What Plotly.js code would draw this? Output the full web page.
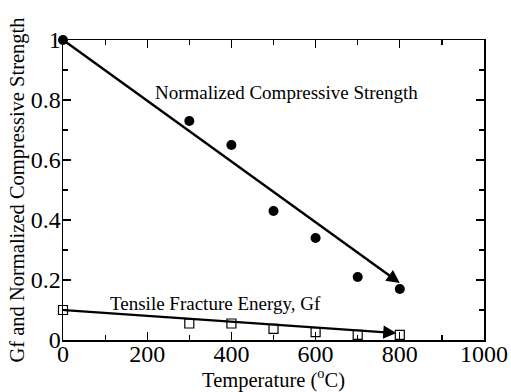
<!DOCTYPE html>
<html><head><meta charset="utf-8">
<script src="https://cdn.plot.ly/plotly-3.0.1.min.js"></script>
<style>html,body{margin:0;padding:0;background:#fff}</style>
</head><body>
<div id="chart" style="width:511px;height:392px"></div>
<script>
const temperature = [0, 300, 400, 500, 600, 700, 800];
const compStrength = [1.0, 0.73, 0.65, 0.43, 0.34, 0.21, 0.17];
const fractureEnergy = [0.1, 0.055, 0.055, 0.037, 0.026, 0.017, 0.017];
const strengthTrend = {x: [0, 800], y: [1.0, 0.19]};
const energyTrend = {x: [0, 792], y: [0.1, 0.023]};
const labelStrength = {x: 213, y: 0.825, text: 'Normalized Compressive Strength'};
const labelEnergy = {x: 107, y: 0.123, text: 'Tensile Fracture Energy, Gf'};
const xTicks = [0, 200, 400, 600, 800, 1000];
const yTicks = [0, 0.2, 0.4, 0.6, 0.8, 1];
const yTickText = ['0', '0.2', '0.4', '0.6', '0.8', '1'];

const font = "'Liberation Serif', 'Times New Roman', Times, serif";
const traces = [
  {x: temperature, y: compStrength, mode: 'markers', type: 'scatter',
   marker: {symbol: 'circle', size: 10, color: '#000'}, cliponaxis: false},
  {x: temperature, y: fractureEnergy, mode: 'markers', type: 'scatter',
   marker: {symbol: 'square-open', size: 9, color: '#000', line: {width: 1.2}}, cliponaxis: false}
];
function arrow(t) {
  return {x: t.x[1], y: t.y[1], ax: t.x[0], ay: t.y[0], xref: 'x', yref: 'y',
    axref: 'x', ayref: 'y', showarrow: true, arrowhead: 2, arrowsize: 1.1,
    arrowwidth: 2.4, arrowcolor: '#000', text: ''};
}
const layout = {
  width: 511, height: 392,
  margin: {l: 63, r: 27, t: 40, b: 52},
  paper_bgcolor: '#fff', plot_bgcolor: '#fff',
  showlegend: false,
  font: {family: font, color: '#000', size: 19},
  xaxis: {range: [0, 1000], tickmode: 'array', tickvals: xTicks,
    ticks: 'inside', ticklen: 8, tickwidth: 1.2, tickcolor: '#000',
    minor: {dtick: 100, ticks: 'inside', ticklen: 5, tickwidth: 1.2, tickcolor: '#000'},
    showline: true, linecolor: '#000', linewidth: 1.5, mirror: 'ticks',
    showgrid: false, zeroline: false,
    tickfont: {size: 24, family: font, color: '#000'}, ticklabelstandoff: -8,
    title: {text: 'Temperature (<sup>o</sup>C)', font: {size: 20.5, family: font, color: '#000'}, standoff: 4}},
  yaxis: {range: [0, 1], tickmode: 'array', tickvals: yTicks, ticktext: yTickText,
    ticks: 'inside', ticklen: 8, tickwidth: 1.2, tickcolor: '#000',
    minor: {dtick: 0.1, ticks: 'inside', ticklen: 5, tickwidth: 1.2, tickcolor: '#000'},
    showline: true, linecolor: '#000', linewidth: 1.5, mirror: 'ticks',
    showgrid: false, zeroline: false,
    tickfont: {size: 24, family: font, color: '#000'}, ticklabelstandoff: -4,
    title: {text: 'Gf and Normalized Compressive Strength', font: {size: 20.5, family: font, color: '#000'}, standoff: 0}},
  annotations: [
    arrow(strengthTrend), arrow(energyTrend),
    {x: labelStrength.x, y: labelStrength.y, xref: 'x', yref: 'y', text: labelStrength.text,
     showarrow: false, xanchor: 'left', font: {size: 19, family: font, color: '#000'}},
    {x: labelEnergy.x, y: labelEnergy.y, xref: 'x', yref: 'y', text: labelEnergy.text,
     showarrow: false, xanchor: 'left', font: {size: 19, family: font, color: '#000'}}
  ]
};
Plotly.newPlot('chart', traces, layout, {displayModeBar: false, staticPlot: true});
</script>
</body></html>
